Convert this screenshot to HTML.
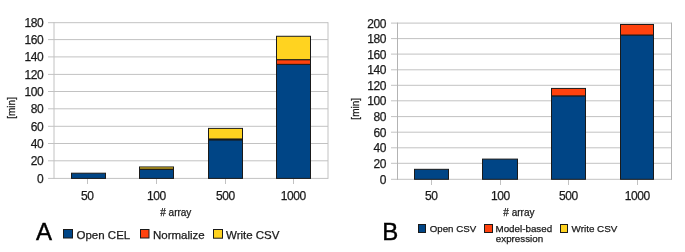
<!DOCTYPE html>
<html><head><meta charset="utf-8"><style>
html,body{margin:0;padding:0;background:#fff;}
body{width:685px;height:252px;overflow:hidden;}
svg{display:block;}
#w{will-change:transform;width:685px;height:252px;}
text{font-family:"Liberation Sans",sans-serif;fill:#1a1a1a;stroke:#1a1a1a;stroke-width:0.25px;}
</style></head><body><div id="w">
<svg width="685" height="252" viewBox="0 0 685 252">
<rect width="685" height="252" fill="#fff"/>
<line x1="48" y1="22.7" x2="328.0" y2="22.7" stroke="#c2c2c2"/>
<text x="43.3" y="27.2" font-size="12" text-anchor="end" letter-spacing="-0.4">180</text>
<line x1="48" y1="39.6" x2="328.0" y2="39.6" stroke="#c2c2c2"/>
<text x="43.3" y="44.1" font-size="12" text-anchor="end" letter-spacing="-0.4">160</text>
<line x1="48" y1="56.9" x2="328.0" y2="56.9" stroke="#c2c2c2"/>
<text x="43.3" y="61.4" font-size="12" text-anchor="end" letter-spacing="-0.4">140</text>
<line x1="48" y1="74.4" x2="328.0" y2="74.4" stroke="#c2c2c2"/>
<text x="43.3" y="78.9" font-size="12" text-anchor="end" letter-spacing="-0.4">120</text>
<line x1="48" y1="91.5" x2="328.0" y2="91.5" stroke="#c2c2c2"/>
<text x="43.3" y="96.0" font-size="12" text-anchor="end" letter-spacing="-0.4">100</text>
<line x1="48" y1="108.8" x2="328.0" y2="108.8" stroke="#c2c2c2"/>
<text x="43.3" y="113.3" font-size="12" text-anchor="end" letter-spacing="-0.4">80</text>
<line x1="48" y1="126.3" x2="328.0" y2="126.3" stroke="#c2c2c2"/>
<text x="43.3" y="130.8" font-size="12" text-anchor="end" letter-spacing="-0.4">60</text>
<line x1="48" y1="143.5" x2="328.0" y2="143.5" stroke="#c2c2c2"/>
<text x="43.3" y="148.0" font-size="12" text-anchor="end" letter-spacing="-0.4">40</text>
<line x1="48" y1="160.8" x2="328.0" y2="160.8" stroke="#c2c2c2"/>
<text x="43.3" y="165.3" font-size="12" text-anchor="end" letter-spacing="-0.4">20</text>
<line x1="48" y1="178.4" x2="328.0" y2="178.4" stroke="#c2c2c2"/>
<text x="43.3" y="182.9" font-size="12" text-anchor="end" letter-spacing="-0.4">0</text>
<line x1="54.0" y1="22.2" x2="54.0" y2="178.9" stroke="#c2c2c2"/>
<line x1="328.0" y1="22.2" x2="328.0" y2="178.9" stroke="#c2c2c2"/>
<line x1="87.5" y1="178.9" x2="87.5" y2="184" stroke="#c2c2c2"/>
<line x1="156.5" y1="178.9" x2="156.5" y2="184" stroke="#c2c2c2"/>
<line x1="225.5" y1="178.9" x2="225.5" y2="184" stroke="#c2c2c2"/>
<line x1="293.5" y1="178.9" x2="293.5" y2="184" stroke="#c2c2c2"/>
<rect x="71.5" y="173.20" width="34" height="5.20" fill="#004586" stroke="#1a1a1a"/>
<text x="87.3" y="199.6" font-size="12" text-anchor="middle" letter-spacing="-0.4">50</text>
<rect x="139.5" y="169.47" width="34" height="8.93" fill="#004586" stroke="#1a1a1a"/>
<rect x="139.5" y="169.04" width="34" height="0.43" fill="#ff420e" stroke="#1a1a1a"/>
<rect x="139.5" y="166.96" width="34" height="2.08" fill="#ffd320" stroke="#1a1a1a"/>
<text x="156.3" y="199.6" font-size="12" text-anchor="middle" letter-spacing="-0.4">100</text>
<rect x="208.5" y="139.83" width="34" height="38.57" fill="#004586" stroke="#1a1a1a"/>
<rect x="208.5" y="138.97" width="34" height="0.87" fill="#ff420e" stroke="#1a1a1a"/>
<rect x="208.5" y="128.39" width="34" height="10.57" fill="#ffd320" stroke="#1a1a1a"/>
<text x="225.3" y="199.6" font-size="12" text-anchor="middle" letter-spacing="-0.4">500</text>
<rect x="276.5" y="64.35" width="34" height="114.05" fill="#004586" stroke="#1a1a1a"/>
<rect x="276.5" y="59.67" width="34" height="4.68" fill="#ff420e" stroke="#1a1a1a"/>
<rect x="276.5" y="36.27" width="34" height="23.40" fill="#ffd320" stroke="#1a1a1a"/>
<text x="293.3" y="199.6" font-size="12" text-anchor="middle" letter-spacing="-0.4">1000</text>
<text x="175.8" y="216" font-size="10" text-anchor="middle"># array</text>
<text x="15" y="107.9" font-size="10" text-anchor="middle" transform="rotate(-90 15 107.9)">[min]</text>
<line x1="391" y1="23.1" x2="671.5" y2="23.1" stroke="#c2c2c2"/>
<text x="386" y="27.6" font-size="12" text-anchor="end" letter-spacing="-0.4">200</text>
<line x1="391" y1="38.6" x2="671.5" y2="38.6" stroke="#c2c2c2"/>
<text x="386" y="43.1" font-size="12" text-anchor="end" letter-spacing="-0.4">180</text>
<line x1="391" y1="54.1" x2="671.5" y2="54.1" stroke="#c2c2c2"/>
<text x="386" y="58.6" font-size="12" text-anchor="end" letter-spacing="-0.4">160</text>
<line x1="391" y1="69.8" x2="671.5" y2="69.8" stroke="#c2c2c2"/>
<text x="386" y="74.3" font-size="12" text-anchor="end" letter-spacing="-0.4">140</text>
<line x1="391" y1="85.3" x2="671.5" y2="85.3" stroke="#c2c2c2"/>
<text x="386" y="89.8" font-size="12" text-anchor="end" letter-spacing="-0.4">120</text>
<line x1="391" y1="100.8" x2="671.5" y2="100.8" stroke="#c2c2c2"/>
<text x="386" y="105.3" font-size="12" text-anchor="end" letter-spacing="-0.4">100</text>
<line x1="391" y1="116.6" x2="671.5" y2="116.6" stroke="#c2c2c2"/>
<text x="386" y="121.1" font-size="12" text-anchor="end" letter-spacing="-0.4">80</text>
<line x1="391" y1="132.2" x2="671.5" y2="132.2" stroke="#c2c2c2"/>
<text x="386" y="136.7" font-size="12" text-anchor="end" letter-spacing="-0.4">60</text>
<line x1="391" y1="147.8" x2="671.5" y2="147.8" stroke="#c2c2c2"/>
<text x="386" y="152.3" font-size="12" text-anchor="end" letter-spacing="-0.4">40</text>
<line x1="391" y1="163.3" x2="671.5" y2="163.3" stroke="#c2c2c2"/>
<text x="386" y="167.8" font-size="12" text-anchor="end" letter-spacing="-0.4">20</text>
<line x1="391" y1="179.3" x2="671.5" y2="179.3" stroke="#c2c2c2"/>
<text x="386" y="183.8" font-size="12" text-anchor="end" letter-spacing="-0.4">0</text>
<line x1="397.5" y1="22.6" x2="397.5" y2="179.8" stroke="#b3b3b3"/>
<line x1="671.5" y1="22.6" x2="671.5" y2="179.8" stroke="#b3b3b3"/>
<line x1="431.5" y1="179.8" x2="431.5" y2="185" stroke="#c2c2c2"/>
<line x1="500.5" y1="179.8" x2="500.5" y2="185" stroke="#c2c2c2"/>
<line x1="568.5" y1="179.8" x2="568.5" y2="185" stroke="#c2c2c2"/>
<line x1="637.5" y1="179.8" x2="637.5" y2="185" stroke="#c2c2c2"/>
<rect x="414.5" y="169.32" width="34" height="9.98" fill="#004586" stroke="#1a1a1a"/>
<text x="431.3" y="200" font-size="12" text-anchor="middle" letter-spacing="-0.4">50</text>
<rect x="482.5" y="159.10" width="35" height="20.20" fill="#004586" stroke="#1a1a1a"/>
<text x="500.3" y="200" font-size="12" text-anchor="middle" letter-spacing="-0.4">100</text>
<rect x="551.5" y="95.84" width="34" height="83.46" fill="#004586" stroke="#1a1a1a"/>
<rect x="551.5" y="88.43" width="34" height="7.41" fill="#ff420e" stroke="#1a1a1a"/>
<text x="568.3" y="200" font-size="12" text-anchor="middle" letter-spacing="-0.4">500</text>
<rect x="620.5" y="35.00" width="33" height="144.30" fill="#004586" stroke="#1a1a1a"/>
<rect x="620.5" y="24.47" width="33" height="10.53" fill="#ff420e" stroke="#1a1a1a"/>
<text x="637.3" y="200" font-size="12" text-anchor="middle" letter-spacing="-0.4">1000</text>
<text x="518.9" y="216.4" font-size="10" text-anchor="middle"># array</text>
<text x="359" y="108.8" font-size="10" text-anchor="middle" transform="rotate(-90 359 108.8)">[min]</text>
<text x="36" y="239.6" font-size="24" text-anchor="start" style="fill:#000;stroke:#000;stroke-width:0.4px">A</text>
<rect x="63.5" y="229.5" width="9" height="8.5" fill="#004586" stroke="#1a1a1a"/>
<text x="76.5" y="239.1" font-size="11.5" text-anchor="start">Open CEL</text>
<rect x="140.5" y="229.5" width="8.5" height="8.5" fill="#ff420e" stroke="#1a1a1a"/>
<text x="153" y="239.1" font-size="11.5" text-anchor="start">Normalize</text>
<rect x="213.5" y="229.5" width="9" height="8.699999999999989" fill="#ffd320" stroke="#1a1a1a"/>
<text x="226" y="239.1" font-size="11.5" text-anchor="start">Write CSV</text>
<text x="382.3" y="239.9" font-size="24" text-anchor="start" style="fill:#000;stroke:#000;stroke-width:0.4px">B</text>
<rect x="418.5" y="224.5" width="7" height="8" fill="#004586" stroke="#1a1a1a"/>
<text x="429.8" y="231.6" font-size="9.7" text-anchor="start">Open CSV</text>
<rect x="484.5" y="224.5" width="8" height="8" fill="#ff420e" stroke="#1a1a1a"/>
<text x="495.5" y="231.6" font-size="9.8" text-anchor="start">Model-based</text>
<text x="495.8" y="242.3" font-size="9.8" text-anchor="start">expression</text>
<rect x="560.5" y="224.5" width="7" height="8" fill="#ffd320" stroke="#1a1a1a"/>
<text x="571.6" y="231.6" font-size="9.85" text-anchor="start">Write CSV</text>
</svg></div>
</body></html>
